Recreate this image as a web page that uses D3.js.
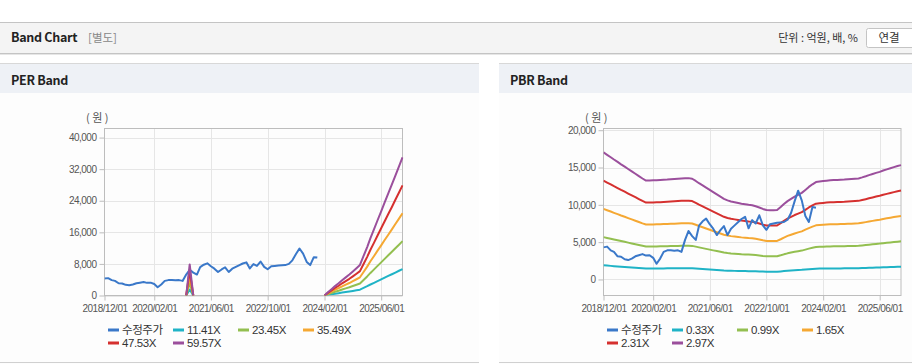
<!DOCTYPE html>
<html>
<head>
<meta charset="utf-8">
<script src="https://cdn.jsdelivr.net/npm/d3@7"></script>
<style>
  body { margin: 0; background: #fff; }
  svg { display: block; font-family: "Liberation Sans", Arial, "Noto Sans CJK KR", sans-serif; }
</style>
</head>
<body>
<svg id="chart" width="912" height="364"></svg>
<script>
// monthly categories 2018/12 .. 2025/12
const months = d3.timeMonth.range(new Date(2018, 11, 1), new Date(2026, 0, 1));
const tickLabels = ['2018/12/01', '2020/02/01', '2021/06/01', '2022/10/01', '2024/02/01', '2025/06/01'];

// 수정주가, 2018/12 .. 2023/12
const price = [
  4300, 4400, 3900, 3700, 3100, 3050, 2700, 2600, 2800, 3100, 3250, 3400,
  3200, 3250, 2900, 2100, 2800, 3700, 3900, 3900, 3850, 3900, 3700, 5300,
  6500, 5800, 5300, 7200, 7800, 8150, 7400, 6800, 5950, 6600, 7150, 5950,
  6800, 7250, 7700, 8100, 8400, 6850, 7950, 7500, 8600, 7250, 6650, 7400,
  7500, 7600, 7650, 7700, 8000, 8900, 10500, 11900, 10600, 8500, 7700, 9700,
  9600
];

// EPS behind the PER band (null = not drawn)
const eps = [
  null, null, null, null, null, null, null, null, null, null, null, null,
  null, null, null, null, null, null, null, null, null, null, null, 0,
  132, 0, null, null, null, null, null, null, null, null, null, null,
  null, null, null, null, null, null, null, null, null, null, null, null,
  null, null, null, null, null, null, null, null, null, null, null, null,
  null, null, 0, 14, 27, 40, 52, 65, 77, 89, 102, 116,
  130, 168, 206, 244, 282, 320, 358, 396, 434, 472, 510, 549,
  587
];

// BPS behind the PBR band
const bps = [
  5731, 5623, 5515, 5411, 5303, 5195, 5091, 4983, 4875, 4771, 4663, 4556,
  4461, 4465, 4471, 4478, 4485, 4495, 4505, 4519, 4532, 4545, 4559, 4569,
  4572, 4545, 4444, 4343, 4242, 4141, 4040, 3939, 3838, 3737, 3636, 3569,
  3519, 3485, 3451, 3418, 3394, 3367, 3350, 3300, 3249, 3182, 3131, 3128,
  3128, 3131, 3266, 3401, 3535, 3636, 3737, 3822, 3906, 4040, 4175, 4293,
  4394, 4418, 4438, 4458, 4478, 4485, 4492, 4498, 4505, 4519, 4532, 4545,
  4559, 4606, 4657, 4707, 4758, 4808, 4855, 4916, 4966, 5017, 5067, 5118,
  5158
];

const perMultiples = [11.41, 23.45, 35.49, 47.53, 59.57];
const pbrMultiples = [0.33, 0.99, 1.65, 2.31, 2.97];
const perTicks = [0, 8000, 16000, 24000, 32000, 40000];
const pbrTicks = [0, 5000, 10000, 15000, 20000];

const priceColor = '#3a78c9';
const bandColors = ['#1fb3c6', '#93bf50', '#f5a833', '#d5302f', '#9b4f9c'];

const svg = d3.select('#chart');
const parseTick = d3.timeParse('%Y/%m/%d');

// top header
svg.append('rect').attr('x', 0).attr('y', 22).attr('width', 912).attr('height', 31)
  .attr('fill', '#f4f4f4');
svg.append('line').attr('x1', 0).attr('x2', 912).attr('y1', 22.5).attr('y2', 22.5).attr('stroke', '#c4c4c4');
svg.append('line').attr('x1', 0).attr('x2', 912).attr('y1', 53.5).attr('y2', 53.5).attr('stroke', '#c4c4c4');
svg.append('line').attr('x1', 0).attr('x2', 912).attr('y1', 54.5).attr('y2', 54.5).attr('stroke', '#e6e6e6');
svg.append('text').attr('x', 11).attr('y', 42).text('Band Chart')
  .attr('font-size', 12.5).attr('font-weight', 'bold').attr('fill', '#222').attr('letter-spacing', -0.3)
  .attr('font-family', '"Noto Sans CJK KR", sans-serif');
svg.append('text').attr('x', 88).attr('y', 42).text('[별도]')
  .attr('font-size', 11.5).attr('fill', '#888')
  .attr('font-family', '"Noto Sans CJK KR", sans-serif');
svg.append('text').attr('x', 858).attr('y', 42).attr('text-anchor', 'end').text('단위 : 억원, 배, %')
  .attr('font-size', 11).attr('fill', '#333')
  .attr('font-family', '"Noto Sans CJK KR", sans-serif');
svg.append('rect').attr('x', 866.5).attr('y', 28.5).attr('width', 50).attr('height', 19).attr('rx', 2)
  .attr('fill', '#fff').attr('stroke', '#c4c4c4');
svg.append('text').attr('x', 889).attr('y', 42).attr('text-anchor', 'middle').text('연결')
  .attr('font-size', 11.5).attr('fill', '#333')
  .attr('font-family', '"Noto Sans CJK KR", sans-serif');

function drawBand(cfg) {
  const g = svg.append('g');

  // panel frame
  g.append('rect').attr('x', cfg.px).attr('y', 64).attr('width', cfg.pw).attr('height', 300).attr('fill', '#fdfdfd');
  g.append('rect').attr('x', cfg.px).attr('y', 64).attr('width', cfg.pw).attr('height', 29).attr('fill', '#eef1f6');
  g.append('line').attr('x1', cfg.px).attr('x2', cfg.px + cfg.pw).attr('y1', 63.5).attr('y2', 63.5).attr('stroke', '#d8d8d8');
  g.append('line').attr('x1', cfg.px).attr('x2', cfg.px + cfg.pw).attr('y1', 362.5).attr('y2', 362.5).attr('stroke', '#d0d0d0');
  g.append('text').attr('x', cfg.px + 11).attr('y', 85).text(cfg.title)
    .attr('font-size', 12.5).attr('font-weight', 'bold').attr('fill', '#222').attr('letter-spacing', -0.3)
    .attr('font-family', '"Noto Sans CJK KR", sans-serif');

  const x = d3.scaleTime().domain([months[0], months[months.length - 1]]).range([cfg.left, cfg.right]);
  const y = d3.scaleLinear().domain(cfg.yDomain).range([cfg.bottom, cfg.top]);
  const tickDates = tickLabels.map(parseTick);

  // gridlines
  g.append('g').selectAll('line').data(cfg.yTicks).join('line')
    .attr('x1', cfg.left).attr('x2', cfg.right)
    .attr('y1', d => Math.round(y(d)) + 0.5).attr('y2', d => Math.round(y(d)) + 0.5)
    .attr('stroke', '#e6e6e6');
  g.append('g').selectAll('line').data(tickDates.slice(1)).join('line')
    .attr('x1', d => Math.round(x(d)) + 0.5).attr('x2', d => Math.round(x(d)) + 0.5)
    .attr('y1', cfg.top).attr('y2', cfg.bottom)
    .attr('stroke', '#e6e6e6');

  // axes
  const yAxis = g.append('g').attr('transform', `translate(${cfg.left},0)`)
    .call(d3.axisLeft(y).tickValues(cfg.yTicks).tickFormat(d3.format(',')).tickSize(5).tickSizeOuter(0).tickPadding(3));
  const xAxis = g.append('g').attr('transform', `translate(0,${cfg.bottom})`)
    .call(d3.axisBottom(x).tickValues(tickDates).tickFormat(d3.timeFormat('%Y/%m/%d')).tickSize(5).tickSizeOuter(0).tickPadding(4));
  [yAxis, xAxis].forEach(a => {
    a.select('.domain').remove();
    a.selectAll('line').attr('stroke', '#bdbdbd');
    a.selectAll('text').attr('fill', '#555').attr('font-size', 10).attr('letter-spacing', -0.5)
      .attr('font-family', '"Liberation Sans", Arial, sans-serif');
  });

  g.append('rect').attr('x', cfg.left).attr('y', cfg.top)
    .attr('width', cfg.right - cfg.left).attr('height', cfg.bottom - cfg.top)
    .attr('fill', 'none').attr('stroke', '#bdbdbd');

  g.append('text').attr('x', cfg.left - 6).attr('y', 122).attr('text-anchor', 'middle').text('(원)')
    .attr('font-size', 11).attr('fill', '#555').attr('letter-spacing', 2.5)
    .attr('font-family', '"Noto Sans CJK KR", sans-serif');

  // lines
  const line = d3.line()
    .defined(d => d.v != null)
    .x(d => x(d.date)).y(d => y(d.v));

  const bands = cfg.multiples.map((m, i) => ({
    color: bandColors[i],
    values: months.map((date, j) => ({ date, v: cfg.base[j] == null ? null : cfg.base[j] * m }))
  }));
  const priceSeries = {
    color: priceColor,
    values: months.map((date, j) => ({ date, v: j < price.length ? price[j] : null }))
  };

  const clipId = 'clip-' + cfg.title.replace(/\s/g, '');
  g.append('clipPath').attr('id', clipId).append('rect')
    .attr('x', cfg.left).attr('y', cfg.top - 2)
    .attr('width', cfg.right - cfg.left + 1).attr('height', cfg.bottom - cfg.top + 2);

  g.append('g').attr('clip-path', `url(#${clipId})`)
    .selectAll('path').data(cfg.priceOnTop ? [...bands, priceSeries] : [priceSeries, ...bands]).join('path')
    .attr('d', d => line(d.values))
    .attr('fill', 'none')
    .attr('stroke', d => d.color)
    .attr('stroke-width', 2)
    .attr('stroke-linejoin', 'round');

  // legend
  const items = [{ label: '수정주가', color: priceColor }]
    .concat(cfg.multiples.map((m, i) => ({ label: m.toFixed(2) + 'X', color: bandColors[i] })));
  const leg = g.append('g').selectAll('g').data(items).join('g')
    .attr('transform', (d, i) => `translate(${cfg.legendX + (i % 4) * 65},${330 + Math.floor(i / 4) * 13})`);
  leg.append('line').attr('x1', 0).attr('x2', 11).attr('y1', 0).attr('y2', 0)
    .attr('stroke', d => d.color).attr('stroke-width', 3);
  leg.append('text').attr('x', 14).attr('y', 4).text(d => d.label)
    .attr('font-size', 11.5).attr('fill', '#333').attr('letter-spacing', -0.4)
    .attr('font-family', '"Liberation Sans", Arial, "Noto Sans CJK KR", sans-serif');
}

drawBand({
  title: 'PER Band', px: 0, pw: 479,
  left: 104.5, right: 402.5, top: 128.5, bottom: 295.5,
  yDomain: [0, 42300], yTicks: perTicks,
  multiples: perMultiples, base: eps, legendX: 108, priceOnTop: false
});

drawBand({
  title: 'PBR Band', px: 499, pw: 413,
  left: 603.5, right: 901, top: 128.5, bottom: 295.5,
  yDomain: [-2150, 20230], yTicks: pbrTicks,
  multiples: pbrMultiples, base: bps, legendX: 607, priceOnTop: true
});
</script>
</body>
</html>
